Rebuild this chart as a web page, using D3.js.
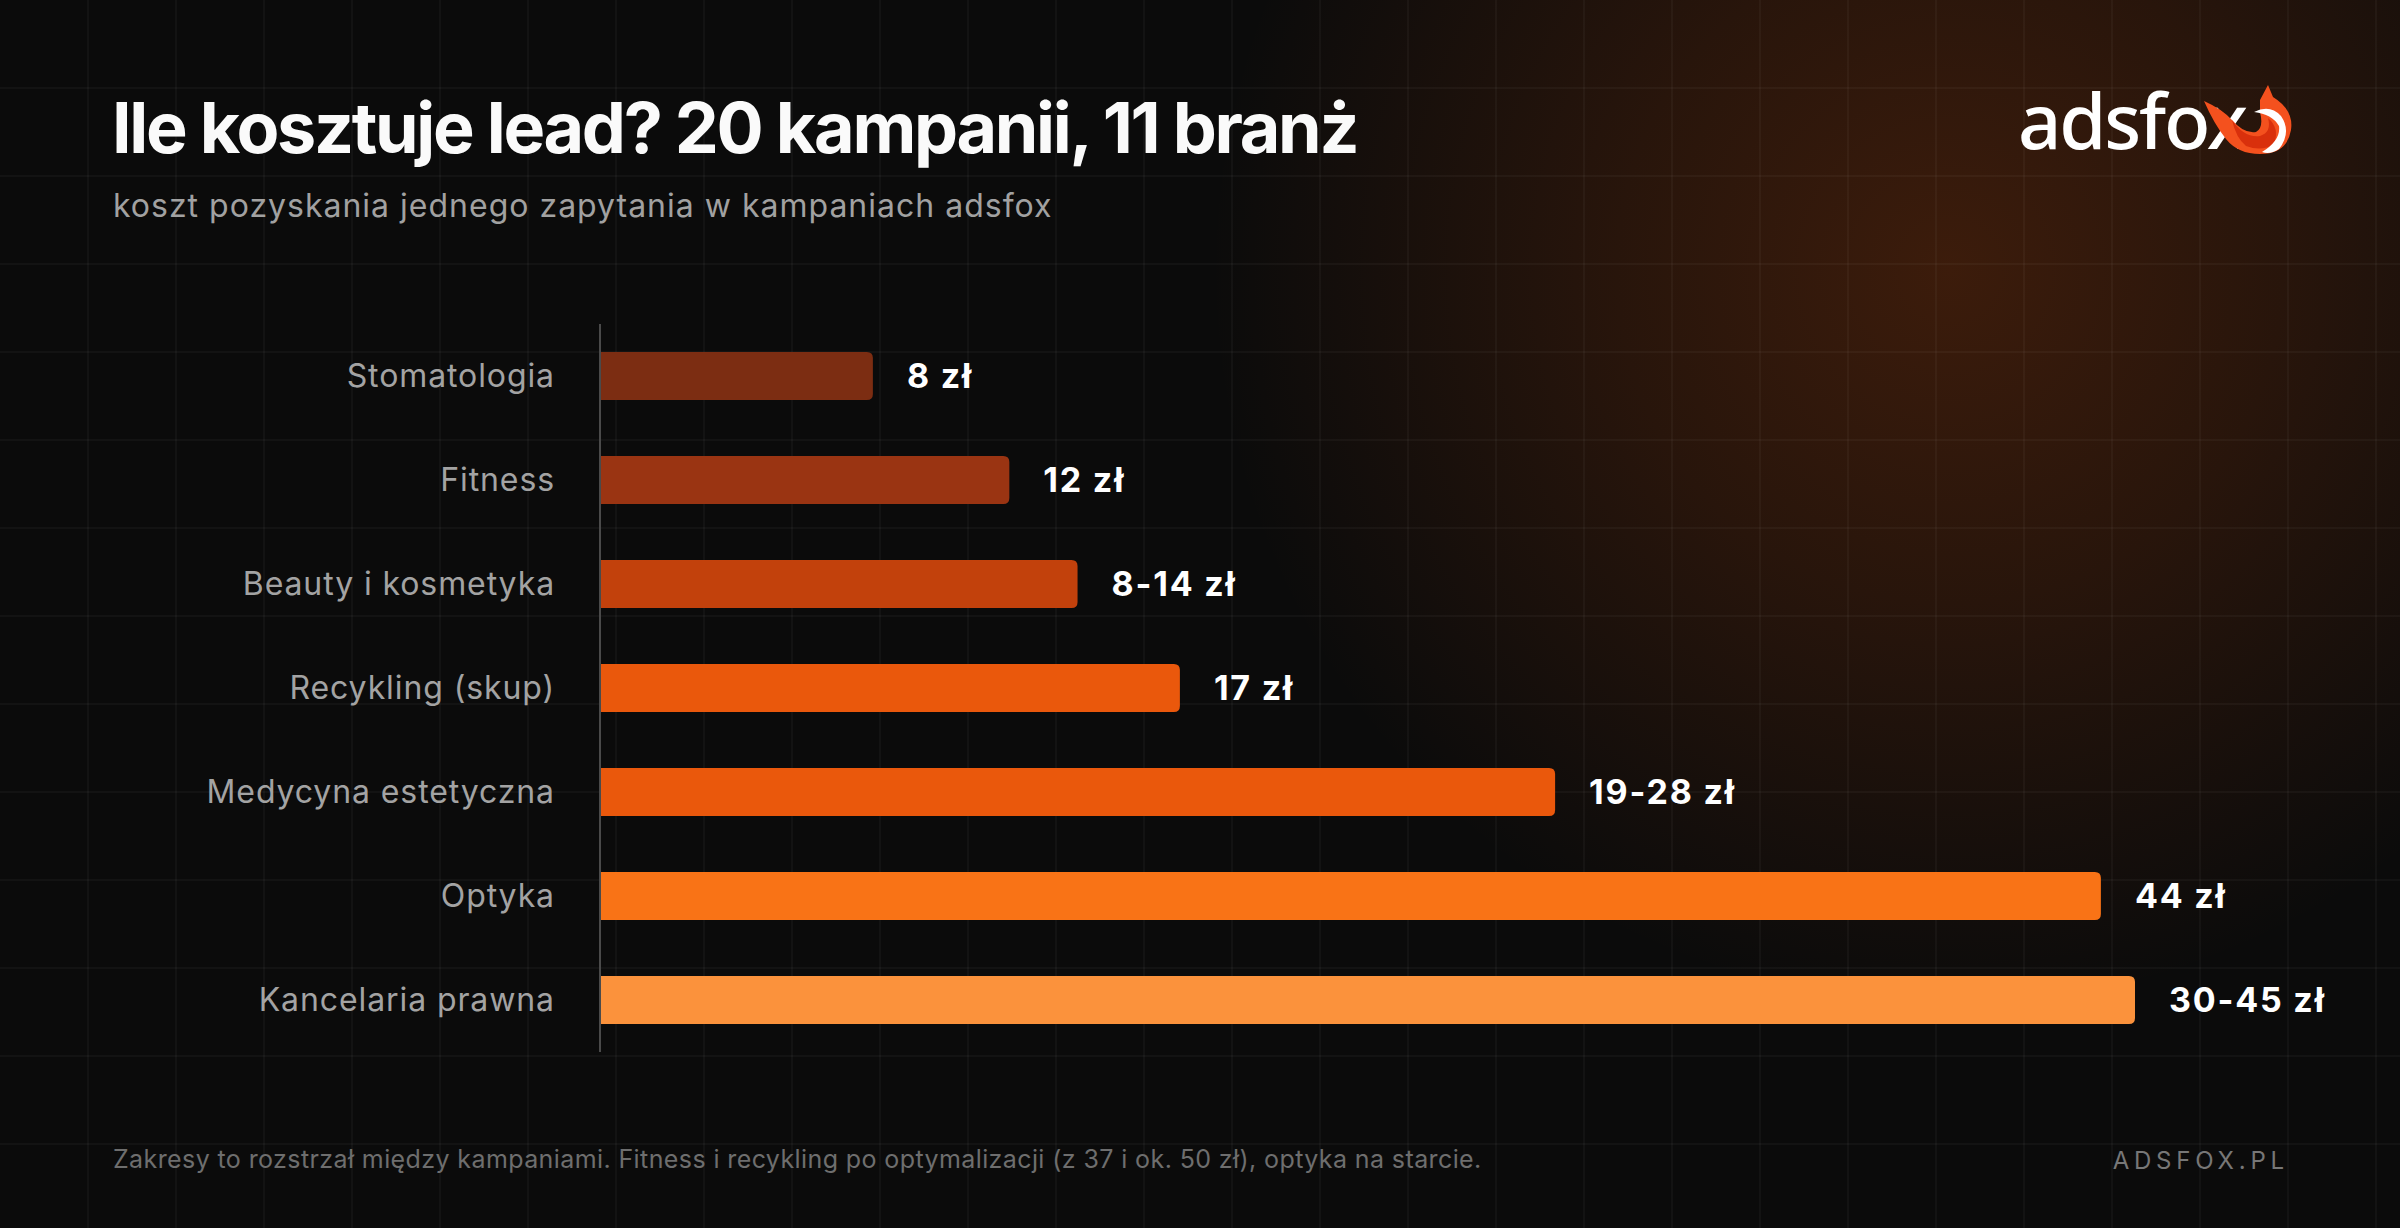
<!DOCTYPE html>
<html>
<head>
<meta charset="utf-8">
<script src="https://cdn.jsdelivr.net/npm/d3@7"></script>
<style>
  html, body { margin: 0; padding: 0; background: #0b0b0b; }
  svg { display: block; }
</style>
</head>
<body>
<div id="chart"></div>
<script>
// ------------- Data ----------------- //
const categories = [
  'Stomatologia',
  'Fitness',
  'Beauty i kosmetyka',
  'Recykling (skup)',
  'Medycyna estetyczna',
  'Optyka',
  'Kancelaria prawna'
];
const lowValues = [8, 12, 8, 17, 19, 44, 30];
const highValues = [8, 12, 14, 17, 28, 44, 45];
const barColors = ['#7c2d12', '#9a3412', '#c2410c', '#ea580c', '#ea580c', '#f97316', '#fb923c'];

const titleText = 'Ile kosztuje lead? 20 kampanii, 11 branż';
const subtitleText = 'koszt pozyskania jednego zapytania w kampaniach adsfox';
const footnoteText = 'Zakresy to rozstrzał między kampaniami. Fitness i recykling po optymalizacji (z 37 i ok. 50 zł), optyka na starcie.';
const siteText = 'ADSFOX.PL';

const W = 2400, H = 1228;
const font = 'Inter, "Noto Sans", sans-serif';

const svg = d3.select('#chart')
  .append('svg')
  .attr('width', W)
  .attr('height', H);

// background + orange glow top right
const defs = svg.append('defs');
const glow = defs.append('radialGradient')
  .attr('id', 'glow')
  .attr('gradientUnits', 'userSpaceOnUse')
  .attr('cx', 1950).attr('cy', 270).attr('r', 740);
glow.append('stop').attr('offset', 0).attr('stop-color', '#ea580c').attr('stop-opacity', 0.22);
glow.append('stop').attr('offset', 0.45).attr('stop-color', '#ea580c').attr('stop-opacity', 0.13);
glow.append('stop').attr('offset', 1).attr('stop-color', '#ea580c').attr('stop-opacity', 0);

svg.append('rect').attr('width', W).attr('height', H).attr('fill', '#0b0b0b');
svg.append('rect').attr('width', W).attr('height', H).attr('fill', 'url(#glow)');

// faint grid, 88px cells
const gridG = svg.append('g').attr('stroke', '#ffffff').attr('stroke-opacity', 0.035).attr('stroke-width', 2);
gridG.selectAll('line.v')
  .data(d3.range(88, W, 88))
  .join('line')
  .attr('class', 'v')
  .attr('x1', d => d).attr('x2', d => d)
  .attr('y1', 0).attr('y2', H);
gridG.selectAll('line.h')
  .data(d3.range(88, H, 88))
  .join('line')
  .attr('class', 'h')
  .attr('y1', d => d).attr('y2', d => d)
  .attr('x1', 0).attr('x2', W);

// ------------- Header ----------------- //
svg.append('text')
  .attr('x', 112).attr('y', 153)
  .attr('font-family', font)
  .attr('font-weight', 700)
  .attr('font-size', 70)
  .attr('letter-spacing', -2.3)
  .attr('fill', '#fafafa')
  .text(titleText);

svg.append('text')
  .attr('x', 113).attr('y', 217)
  .attr('font-family', font)
  .attr('font-size', 32)
  .attr('letter-spacing', 1)
  .attr('fill', '#a1a1a1')
  .text(subtitleText);

// logo
const logo = svg.append('g');
logo.append('text')
  .attr('x', 2018).attr('y', 149)
  .attr('font-family', '"Noto Sans", sans-serif')
  .attr('font-weight', 500)
  .attr('font-size', 76)
  .attr('textLength', 230)
  .attr('fill', '#ffffff')
  .text('adsfox');
// fox mark (rough)
logo.append('path')
  .attr('d', 'M2260,100 L2268,85 L2273,97 Q2294,110 2291,130 Q2287,154 2260,154 Q2238,154 2226,139 Q2214,124 2204,101 Q2222,109 2232,120 Q2244,134 2256,132 Q2264,128 2260,112 Z')
  .attr('fill', '#f4511e');
logo.append('path')
  .attr('d', 'M2232,120 Q2244,138 2260,136 Q2272,132 2268,118 Q2280,128 2274,144 Q2262,152 2246,146 Q2236,138 2232,120 Z')
  .attr('fill', '#d9300c');
logo.append('path')
  .attr('d', 'M2254,112 Q2270,104 2281,116 Q2292,132 2279,149 Q2270,155 2262,152 Q2281,140 2279,126 Q2272,114 2254,112 Z')
  .attr('fill', '#ffffff');

// ------------- Chart ----------------- //
const x = d3.scaleLinear().domain([0, 45]).range([600, 2135]);
const y = d3.scaleBand()
  .domain(categories)
  .range([324, 1052])
  .paddingInner(56 / 104)
  .paddingOuter(28 / 104);

const r = 6;
function barPath(i) {
  const x0 = x(0), x1 = x(highValues[i]);
  const y0 = y(categories[i]), h = y.bandwidth();
  return `M${x0},${y0} H${x1 - r} Q${x1},${y0} ${x1},${y0 + r} V${y0 + h - r} Q${x1},${y0 + h} ${x1 - r},${y0 + h} H${x0} Z`;
}

svg.append('g')
  .selectAll('path')
  .data(categories)
  .join('path')
  .attr('d', (d, i) => barPath(i))
  .attr('fill', (d, i) => barColors[i]);

// y axis (labels + line)
const yAxis = d3.axisLeft(y).tickSize(0).tickPadding(45);
const axisG = svg.append('g')
  .attr('transform', 'translate(600,0)')
  .call(yAxis);
axisG.select('.domain').remove();
axisG.selectAll('.tick text')
  .attr('font-family', font)
  .attr('font-size', 32)
  .attr('letter-spacing', 0.9)
  .attr('fill', '#a3a3a3')
  .attr('dy', '0.34em');

svg.append('line')
  .attr('x1', 600).attr('x2', 600)
  .attr('y1', y.range()[0]).attr('y2', y.range()[1])
  .attr('stroke', '#4a4a4a')
  .attr('stroke-width', 2);

// value labels
svg.append('g')
  .selectAll('text')
  .data(categories)
  .join('text')
  .attr('x', (d, i) => x(highValues[i]) + 34)
  .attr('y', d => y(d) + y.bandwidth() / 2)
  .attr('dy', '0.36em')
  .attr('font-family', font)
  .attr('font-weight', 700)
  .attr('font-size', 34)
  .attr('letter-spacing', 1.8)
  .attr('fill', '#ffffff')
  .text((d, i) => lowValues[i] === highValues[i]
    ? `${highValues[i]} zł`
    : `${lowValues[i]}-${highValues[i]} zł`);

// ------------- Footer ----------------- //
svg.append('text')
  .attr('x', 113).attr('y', 1168)
  .attr('font-family', font)
  .attr('font-size', 25)
  .attr('letter-spacing', 0.4)
  .attr('fill', '#6e6e6e')
  .text(footnoteText);

svg.append('text')
  .attr('x', 2289).attr('y', 1169)
  .attr('text-anchor', 'end')
  .attr('font-family', font)
  .attr('font-size', 24)
  .attr('letter-spacing', 4.8)
  .attr('fill', '#777777')
  .text(siteText);
</script>
</body>
</html>
